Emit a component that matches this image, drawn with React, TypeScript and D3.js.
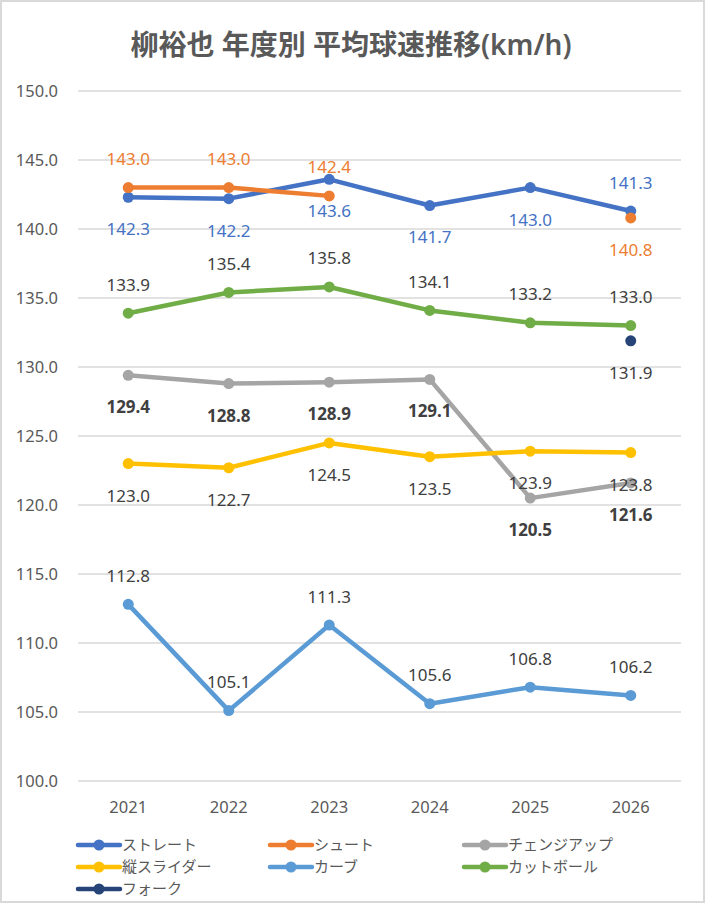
import React from 'react';
import * as d3 from 'd3';

const years = ['2021', '2022', '2023', '2024', '2025', '2026'];
const yTicks = [100, 105, 110, 115, 120, 125, 130, 135, 140, 145, 150];

const straight = [142.3, 142.2, 143.6, 141.7, 143.0, 141.3];
const shoot = [143.0, 143.0, 142.4, null, null, 140.8];
const changeup = [129.4, 128.8, 128.9, 129.1, 120.5, 121.6];
const slider = [123.0, 122.7, 124.5, 123.5, 123.9, 123.8];
const curve = [112.8, 105.1, 111.3, 105.6, 106.8, 106.2];
const cutter = [133.9, 135.4, 135.8, 134.1, 133.2, 133.0];
const fork = [null, null, null, null, null, 131.9];

// which side of the point each data label sits on
const straightSide = ['b', 'b', 'b', 'b', 'b', 'a'];
const shootSide = ['a', 'a', 'a', 'a', 'a', 'b'];

type Series = {
  name: string;
  values: (number | null)[];
  color: string;
  labelColor: string;
  bold?: boolean;
  side: string[] | string;
};

const series: Series[] = [
  { name: 'ストレート', values: straight, color: '#4472C4', labelColor: '#4472C4', side: straightSide },
  { name: 'シュート', values: shoot, color: '#ED7D31', labelColor: '#ED7D31', side: shootSide },
  { name: 'チェンジアップ', values: changeup, color: '#A5A5A5', labelColor: '#404040', bold: true, side: 'b' },
  { name: '縦スライダー', values: slider, color: '#FFC000', labelColor: '#404040', side: 'b' },
  { name: 'カーブ', values: curve, color: '#5B9BD5', labelColor: '#404040', side: 'a' },
  { name: 'カットボール', values: cutter, color: '#70AD47', labelColor: '#404040', side: 'a' },
  { name: 'フォーク', values: fork, color: '#264478', labelColor: '#404040', side: 'b' },
];

const W = 705;
const H = 903;
const plot = { left: 78, right: 681, top: 91, bottom: 781 };
const font = '"Noto Sans", "Noto Sans CJK JP", sans-serif';

export default function App() {
  const x = d3.scalePoint<string>().domain(years).range([plot.left, plot.right]).padding(0.5);
  const y = d3.scaleLinear().domain([100, 150]).range([plot.bottom, plot.top]);

  const line = d3
    .line<number | null>()
    .defined((d) => d != null)
    .x((_, i) => x(years[i]) as number)
    .y((d) => y(d as number));

  const legendCols = [78, 270, 464];
  const legendRows = [845, 867, 889];

  return (
    <div style={{ position: 'absolute', left: 0, top: 0 }}>
      <svg width={W} height={H} style={{ display: 'block', fontFamily: font }}>
        <rect x={0} y={0} width={W} height={H} fill="#fff" />
        <rect x={1} y={1} width={W - 2} height={H - 2} fill="none" stroke="#D9D9D9" strokeWidth={2} />

        <text x={351} y={55} textAnchor="middle" fontSize={28} fontWeight={600} fill="#595959">
          柳裕也 年度別 平均球速推移(km/h)
        </text>

        {yTicks.map((t) => (
          <g key={t}>
            <line x1={plot.left} x2={plot.right} y1={y(t)} y2={y(t)} stroke="#D9D9D9" strokeWidth={1.5} />
            <text x={58} y={y(t)} dy="0.35em" textAnchor="end" fontSize={16.5} fill="#595959">
              {t.toFixed(1)}
            </text>
          </g>
        ))}

        {years.map((yr) => (
          <text key={yr} x={x(yr)} y={807} dy="0.35em" textAnchor="middle" fontSize={16.5} fill="#595959">
            {yr}
          </text>
        ))}

        {series.map((s) => (
          <g key={s.name}>
            <path d={line(s.values) || ''} fill="none" stroke={s.color} strokeWidth={4.5} strokeLinejoin="round" strokeLinecap="round" />
            {s.values.map((v, i) =>
              v == null ? null : <circle key={i} cx={x(years[i])} cy={y(v)} r={5.5} fill={s.color} />
            )}
          </g>
        ))}

        {series.map((s) => (
          <g key={s.name + '-labels'}>
            {s.values.map((v, i) => {
              if (v == null) return null;
              const side = typeof s.side === 'string' ? s.side : s.side[i];
              const dy = side === 'a' ? -28.5 : 32;
              return (
                <text
                  key={i}
                  x={x(years[i])}
                  y={y(v) + dy}
                  dy="0.35em"
                  textAnchor="middle"
                  fontSize={17}
                  fontWeight={s.bold ? 700 : 400}
                  fill={s.labelColor}
                >
                  {v.toFixed(1)}
                </text>
              );
            })}
          </g>
        ))}

        {series.map((s, i) => {
          const lx = legendCols[i % 3];
          const ly = legendRows[Math.floor(i / 3)];
          return (
            <g key={s.name + '-legend'} transform={`translate(${lx},${ly})`}>
              <line x1={0} x2={42} y1={0} y2={0} stroke={s.color} strokeWidth={4.5} strokeLinecap="round" />
              <circle cx={21} cy={0} r={5.5} fill={s.color} />
              <text x={44} y={0} dy="0.35em" fontSize={15} fill="#595959" fontFamily='"Noto Sans CJK JP", sans-serif'>
                {s.name}
              </text>
            </g>
          );
        })}
      </svg>
    </div>
  );
}
